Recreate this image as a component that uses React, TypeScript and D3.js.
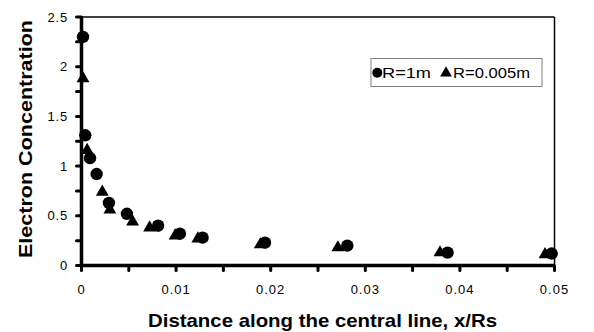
import React from "react";
import * as d3 from "d3";

// R = 1 m series (circles)
const circleX = [0.00016, 0.0004, 0.0009, 0.0016, 0.0029, 0.0048, 0.0081, 0.0104, 0.0128, 0.0194, 0.0281, 0.0387, 0.0497];
const circleY = [2.3, 1.31, 1.08, 0.92, 0.63, 0.52, 0.4, 0.32, 0.28, 0.23, 0.2, 0.13, 0.12];

// R = 0.005 m series (triangles)
const triX = [0.00016, 0.0006, 0.0022, 0.003, 0.0054, 0.0072, 0.0099, 0.0123, 0.0189, 0.0271, 0.0379, 0.049];
const triY = [1.88, 1.16, 0.74, 0.56, 0.44, 0.38, 0.3, 0.27, 0.21, 0.18, 0.13, 0.11];

const xTickLabels = ["0", "0.01", "0.02", "0.03", "0.04", "0.05"];
const yTickLabels = ["0", "0.5", "1", "1.5", "2", "2.5"];
const seriesNames = ["R=1m", "R=0.005m"];

const W = 594;
const H = 332;
const left = 81.5;
const right = 554.5;
const top = 17;
const bottom = 265.5;

export default function App() {
  const x = d3.scaleLinear().domain([0, 0.05]).range([left, right]);
  const y = d3.scaleLinear().domain([0, 2.5]).range([bottom, top]);
  const font = "Liberation Sans, Arial, sans-serif";

  const xMinor = d3.range(0, 0.0501, 0.005);
  const yMinor = d3.range(0, 2.501, 0.25);

  const triPath = d3.symbol().type(d3.symbolTriangle).size(72)() as string;

  return (
    <svg width={W} height={H} style={{ position: "absolute", left: 0, top: 0 }} fontFamily={font}>
      <rect width={W} height={H} fill="#fff" />
      {/* frame */}
      <line x1={left} x2={right} y1={top} y2={top} stroke="#000" strokeWidth={1.5} />
      <line x1={right} x2={right} y1={top} y2={bottom} stroke="#000" strokeWidth={1.5} />
      {/* ticks */}
      {yMinor.map((v, i) => (
        <line key={"yt" + i} x1={left - 5} x2={left} y1={y(v)} y2={y(v)} stroke="#000" strokeWidth={3} strokeLinecap="round" />
      ))}
      {xMinor.map((v, i) => (
        <line key={"xt" + i} x1={x(v)} x2={x(v)} y1={bottom} y2={bottom + 5} stroke="#000" strokeWidth={3} strokeLinecap="round" />
      ))}
      {/* axes */}
      <line x1={left} x2={left} y1={top} y2={bottom} stroke="#000" strokeWidth={3.5} />
      <line x1={left} x2={right} y1={bottom} y2={bottom} stroke="#000" strokeWidth={3.5} />
      {/* tick labels */}
      {yTickLabels.map((t, i) => (
        <text key={"yl" + i} x={68} y={y(+t)} dy="0.35em" textAnchor="end" fontSize={13} letterSpacing={0.8}>
          {t}
        </text>
      ))}
      {xTickLabels.map((t, i) => (
        <text key={"xl" + i} x={x(+t)} y={294} textAnchor="middle" fontSize={13} letterSpacing={1}>
          {t}
        </text>
      ))}
      {/* axis titles */}
      <text x={322.5} y={326.5} textAnchor="middle" fontSize={18.5} fontWeight="bold" textLength={349} lengthAdjust="spacingAndGlyphs">
        Distance along the central line, x/Rs
      </text>
      <text transform={`translate(32,139) rotate(-90)`} textAnchor="middle" fontSize={18.5} fontWeight="bold" textLength={238} lengthAdjust="spacingAndGlyphs">
        Electron Concentration
      </text>
      {/* triangles */}
      {triX.map((v, i) => (
        <path key={"tr" + i} d={triPath} transform={`translate(${x(v)},${y(triY[i])})`} fill="#000" />
      ))}
      {/* circles */}
      {circleX.map((v, i) => (
        <circle key={"c" + i} cx={x(v)} cy={y(circleY[i])} r={6.2} fill="#000" />
      ))}
      {/* legend */}
      <rect x={371} y={58.5} width={171} height={28} fill="#fff" stroke="#808080" strokeWidth={1} />
      <circle cx={377.3} cy={72.7} r={5} fill="#000" />
      <text x={382} y={77.7} fontSize={14} textLength={49} lengthAdjust="spacingAndGlyphs">{seriesNames[0]}</text>
      <path d={d3.symbol().type(d3.symbolTriangle).size(60)() as string} transform="translate(446,73)" fill="#000" />
      <text x={453} y={77.7} fontSize={14} textLength={77} lengthAdjust="spacingAndGlyphs">{seriesNames[1]}</text>
    </svg>
  );
}
